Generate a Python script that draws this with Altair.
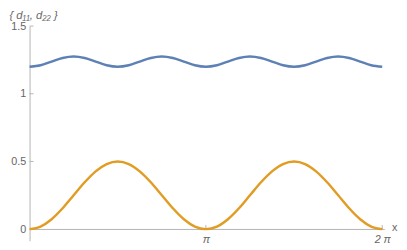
import altair as alt
import pandas as pd

# sample positions (x in radians, 0 .. 2π)
x_vals = [0.000, 0.196, 0.393, 0.589, 0.785, 0.982, 1.178, 1.374, 1.571,
          1.767, 1.963, 2.160, 2.356, 2.553, 2.749, 2.945, 3.142,
          3.338, 3.534, 3.731, 3.927, 4.123, 4.320, 4.516, 4.712,
          4.909, 5.105, 5.301, 5.498, 5.694, 5.890, 6.087, 6.283]

# d11 (blue)
d11 = [1.200, 1.211, 1.238, 1.264, 1.275, 1.264, 1.238, 1.211,
       1.200, 1.211, 1.238, 1.264, 1.275, 1.264, 1.238, 1.211,
       1.200, 1.211, 1.238, 1.264, 1.275, 1.264, 1.238, 1.211,
       1.200, 1.211, 1.238, 1.264, 1.275, 1.264, 1.238, 1.211, 1.200]

# d22 (orange)
d22 = [0.000, 0.019, 0.073, 0.154, 0.250, 0.346, 0.427, 0.481, 0.500,
       0.481, 0.427, 0.346, 0.250, 0.154, 0.073, 0.019, 0.000,
       0.019, 0.073, 0.154, 0.250, 0.346, 0.427, 0.481, 0.500,
       0.481, 0.427, 0.346, 0.250, 0.154, 0.073, 0.019, 0.000]

series_names = ["d11", "d22"]
series_colors = ["#5E81B5", "#E19C24"]

y_ticks = [0, 0.5, 1, 1.5]
y_inner_ticks = [0.5, 1, 1.5]
x_ticks = [3.14159, 6.28319]
x_tick_labels = ["π", "2 π"]

rows = []
for xv, a, b in zip(x_vals, d11, d22):
    rows.append({"x": xv, "v": a, "s": series_names[0]})
    rows.append({"x": xv, "v": b, "s": series_names[1]})
df = pd.DataFrame(rows)

AXC = "#b3b3b3"
LABC = "#666666"
FONT = "Liberation Sans"

xscale = alt.Scale(domain=[0, 6.32], nice=False, zero=False)
yscale = alt.Scale(domain=[-0.0857, 1.5], nice=False, zero=False)

label_expr = "datum.value < 4 ? '" + x_tick_labels[0] + "' : '" + x_tick_labels[1] + "'"

lines = alt.Chart(df).mark_line(strokeWidth=2.5, interpolate="monotone").encode(
    x=alt.X("x:Q", scale=xscale, axis=alt.Axis(
        orient="bottom", offset=-12, values=x_ticks, labelExpr=label_expr,
        ticks=False, grid=False, domainColor=AXC, labelColor=LABC,
        labelFont=FONT, labelFontSize=11, labelFontStyle="italic", labelPadding=5,
        title="x", titleX=372, titleY=-1, titleAlign="center", titleBaseline="middle",
        titleFont=FONT, titleFontSize=11, titleFontWeight="normal", titleColor=LABC)),
    y=alt.Y("v:Q", scale=yscale, axis=alt.Axis(
        orient="left", values=y_ticks, format="~g", ticks=False, grid=False,
        domainColor=AXC, labelColor=LABC, labelFont=FONT, labelFontSize=11,
        labelPadding=4,
        title="{ d₁₁, d₂₂ }", titleAngle=0, titleX=-21, titleY=-11,
        titleAlign="left", titleBaseline="middle", titleFont=FONT, titleFontSize=11.5,
        titleFontWeight="normal", titleFontStyle="italic", titleColor=LABC)),
    color=alt.Color("s:N", scale=alt.Scale(domain=series_names, range=series_colors), legend=None),
)

ytick_df = pd.DataFrame({"t": y_inner_ticks})
ytick_rules = alt.Chart(ytick_df).mark_rule(color=AXC, strokeWidth=1).encode(
    y=alt.Y("t:Q", scale=yscale),
    x=alt.value(0), x2=alt.value(4),
)

xtick_df = pd.DataFrame({"t": x_ticks, "base": [0, 0], "top": [0.03, 0.03]})
xtick_rules = alt.Chart(xtick_df).mark_rule(color=AXC, strokeWidth=1).encode(
    x=alt.X("t:Q", scale=xscale),
    y=alt.Y("base:Q", scale=yscale),
    y2="top:Q",
)

chart = alt.layer(xtick_rules, ytick_rules, lines).properties(
    width=362, height=219,
    autosize=alt.AutoSizeParams(type="none"),
    padding={"left": 22, "top": 16, "right": 15, "bottom": 7},
).configure_view(stroke=None)

chart.save("out.html", embed_options={"renderer": "svg", "actions": False})
